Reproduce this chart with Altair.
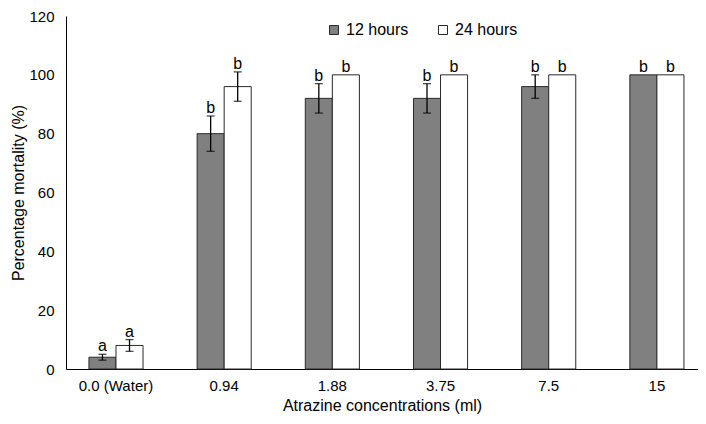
import altair as alt
import pandas as pd

categories = ["0.0 (Water)", "0.94", "1.88", "3.75", "7.5", "15"]
series = ["12 hours", "24 hours"]
mort_12h = [4, 80, 92, 92, 96, 100]
err_12h = [1, 6, 5, 5, 4, 0]
mort_24h = [8, 96, 100, 100, 100, 100]
err_24h = [2, 5, 0, 0, 0, 0]
letters_12h = ["a", "b", "b", "b", "b", "b"]
letters_24h = ["a", "b", "b", "b", "b", "b"]
y_ticks = [0, 20, 40, 60, 80, 100, 120]
colors = ["#808080", "#ffffff"]

rows = []
for s, vals, errs, lets in [("12 hours", mort_12h, err_12h, letters_12h),
                            ("24 hours", mort_24h, err_24h, letters_24h)]:
    for c, v, e, l in zip(categories, vals, errs, lets):
        rows.append(dict(conc=c, series=s, value=v, err=e, lo=v - e, hi=v + e, letter=l))
df = pd.DataFrame(rows)

FONT = "Liberation Sans"

x = alt.X("conc:N", sort=categories,
          scale=alt.Scale(paddingInner=0.5, paddingOuter=0.171, align=0.62),
          axis=alt.Axis(title="Atrazine concentrations (ml)", labelAngle=0, ticks=False,
                        domainColor="black", labelFontSize=15, labelPadding=9,
                        titleFontSize=16, titlePadding=4, labelColor="black",
                        titleColor="black", titleFontWeight="normal"))
xo = alt.XOffset("series:N", sort=series, scale=alt.Scale(paddingInner=0, paddingOuter=0))
yscale = alt.Scale(domain=[0, 120])

base = alt.Chart(df)

bars = base.mark_bar(stroke="#2a2a2a", strokeWidth=1).encode(
    x=x, xOffset=xo,
    y=alt.Y("value:Q", scale=yscale,
            axis=alt.Axis(values=y_ticks, ticks=False, grid=False, domainColor="black",
                          labelFontSize=15, labelPadding=12, labelColor="black",
                          title="Percentage mortality (%)", titleFontSize=16,
                          titlePadding=2, titleColor="black", titleFontWeight="normal")),
    fill=alt.Fill("series:N", sort=series,
                  scale=alt.Scale(domain=series, range=colors),
                  legend=alt.Legend(title=None, orient="none", legendX=260, legendY=6,
                                    direction="horizontal", symbolType="square",
                                    symbolSize=81, symbolStrokeColor="#2a2a2a",
                                    symbolStrokeWidth=1, labelFontSize=16, labelOffset=4,
                                    columnPadding=26, padding=0, labelColor="black")),
)

errs = base.transform_filter("datum.err > 0")

rule = errs.mark_rule(color="black", strokeWidth=1.3).encode(
    x=x, xOffset=xo, y=alt.Y("lo:Q", scale=yscale), y2="hi:Q")
cap_hi = errs.mark_tick(color="black", thickness=1.3, size=8).encode(
    x=x, xOffset=xo, y=alt.Y("hi:Q", scale=yscale))
cap_lo = errs.mark_tick(color="black", thickness=1.3, size=8).encode(
    x=x, xOffset=xo, y=alt.Y("lo:Q", scale=yscale))

labels = base.mark_text(dy=-3, baseline="alphabetic", fontSize=16, color="black", font=FONT).encode(
    x=x, xOffset=xo, y=alt.Y("hi:Q", scale=yscale), text="letter:N")

chart = alt.layer(bars, rule, cap_hi, cap_lo, labels).properties(
    width=632, height=353,
    autosize=alt.AutoSizeParams(type="none"),
    padding={"left": 58, "top": 8, "right": 0, "bottom": 47},
).configure(font=FONT).configure_view(stroke=None).configure_axis(grid=False)

chart.save("out.html", embed_options={"renderer": "svg", "actions": False})
